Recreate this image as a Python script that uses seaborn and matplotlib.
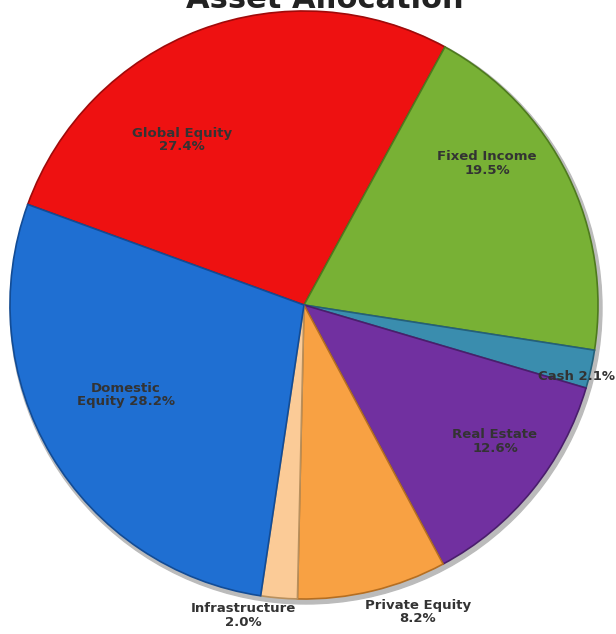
import numpy as np
import matplotlib.pyplot as plt
import seaborn as sns

# slice data, clockwise from the left edge
categories = ["Global Equity", "Fixed Income", "Cash", "Real Estate",
              "Private Equity", "Infrastructure", "Domestic Equity"]
shares = [27.4, 19.5, 2.1, 12.6, 8.2, 2.0, 28.2]
label_texts = ["Global Equity\n27.4%", "Fixed Income\n19.5%", "Cash 2.1%",
               "Real Estate\n12.6%", "Private Equity\n8.2%",
               "Infrastructure\n2.0%", "Domestic\nEquity 28.2%"]

colors = ["#EE1111", "#78B135", "#3A8DAE", "#7130A0",
          "#F8A143", "#FBCB97", "#1F6FD2"]
edge_colors = ["#A00A0A", "#4E7A1E", "#24607A", "#4A1E6C",
               "#B46E22", "#B8905E", "#124C96"]

# label positions in pixels (x from left, y from top)
label_pos = [(182, 140), (487, 163), (577, 376), (495, 441),
             (418, 612), (243, 615), (126, 395)]

sns.set_theme(style="white")
plt.rcParams["font.family"] = ["DejaVu Sans"]

W, H = 616, 634
fig = plt.figure(figsize=(W / 100, H / 100), dpi=100)
ax = fig.add_axes([0, 0, 1, 1])
ax.set_xlim(0, W)
ax.set_ylim(0, H)
ax.set_axis_off()

cx, cy, r = 304, H - 305, 294

# soft shadow behind the pie
shadow = plt.Circle((cx + 2, cy - 3), r + 2, color="#BBBBBB", zorder=0)
ax.add_patch(shadow)

wedges, _ = ax.pie(shares, colors=colors, startangle=160, counterclock=False,
                   center=(cx, cy), radius=r, frame=True,
                   wedgeprops=dict(linewidth=1.2))
for w, ec in zip(wedges, edge_colors):
    w.set_edgecolor(ec)
    w.set_zorder(1)

ax.set_xlim(0, W)
ax.set_ylim(0, H)
ax.set_aspect("equal")
ax.set_axis_off()

for txt, (x, y) in zip(label_texts, label_pos):
    ax.text(x, H - y, txt, ha="center", va="center", fontsize=9.5,
            fontweight="bold", color="#333333", linespacing=1.1, zorder=5)

ax.text(325, H - 8, "Asset Allocation", ha="center", va="baseline",
        fontsize=22, fontweight="bold", color="#222222", zorder=5)

fig.savefig("out.png", dpi=100)
